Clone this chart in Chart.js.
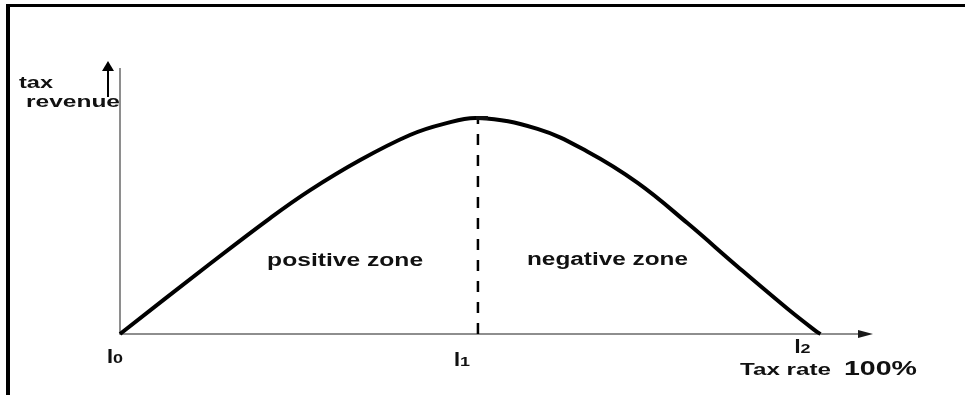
<!DOCTYPE html>
<html>
<head>
<meta charset="utf-8">
<script src="https://cdn.jsdelivr.net/npm/chart.js@4.4.1/dist/chart.umd.min.js"></script>
<style>
  html, body { margin: 0; padding: 0; background: #fff; }
  canvas { display: block; }
</style>
</head>
<body>
<canvas id="laffer" width="965" height="395"></canvas>
<script>
// tax rate (%) and tax revenue
const taxRate = [0, 12.9, 21.4, 27.1, 34.3, 41.4, 46.1, 51.1, 59.6, 66.7, 73.9, 81.0, 88.1, 95.3, 99.3, 100];
const revenue = [0, 26.5, 43.5, 54.0, 65.4, 74.8, 78.9, 81.2, 77.1, 68.6, 56.8, 41.7, 25.5, 9.5, 1.2, 0];

// optimum rate (I1) and its revenue
const peakRate = 51.1;
const peakRevenue = 81.2;

// marks on the rate axis
const rateMarks = [0, peakRate, 100];
const rateSubs = ['0', '1', '2'];

const yTitle = ['tax', 'revenue'];
const xTitle = 'Tax rate';
const xTitleEnd = '100%';
const zoneLabels = ['positive zone', 'negative zone'];
const zoneRates = [21.0, 58.1];

const FONT = '"Liberation Sans", Arial, Helvetica, sans-serif';

function stretchText(ctx, text, x, y, size, width) {
  ctx.save();
  ctx.font = 'bold ' + size + 'px ' + FONT;
  const w = ctx.measureText(text).width;
  ctx.translate(x, y);
  ctx.scale(width / w, 1);
  ctx.fillText(text, 0, 0);
  ctx.restore();
}

const lafferDecor = {
  id: 'lafferDecor',
  beforeDatasetsDraw(chart) {
    const ctx = chart.ctx;
    const area = chart.chartArea;
    const xs = chart.scales.x;
    const ys = chart.scales.y;
    const x0 = xs.getPixelForValue(0);
    const y0 = ys.getPixelForValue(0);

    ctx.save();
    // frame
    ctx.fillStyle = '#000';
    ctx.fillRect(6, 4, 959, 3);
    ctx.fillRect(6, 4, 4, 391);

    // axes
    ctx.strokeStyle = '#6a6a6a';
    ctx.lineWidth = 1.5;
    ctx.beginPath();
    ctx.moveTo(x0, area.top);
    ctx.lineTo(x0, y0);
    ctx.lineTo(area.right - 12, y0);
    ctx.stroke();

    // x arrow head
    ctx.fillStyle = '#1a1a1a';
    ctx.beginPath();
    ctx.moveTo(area.right, y0);
    ctx.lineTo(area.right - 15, y0 - 4);
    ctx.lineTo(area.right - 15, y0 + 4);
    ctx.closePath();
    ctx.fill();

    // separate y arrow
    const ax = x0 - 12;
    ctx.strokeStyle = '#000';
    ctx.lineWidth = 2;
    ctx.beginPath();
    ctx.moveTo(ax, area.top + 29);
    ctx.lineTo(ax, area.top + 1);
    ctx.stroke();
    ctx.fillStyle = '#000';
    ctx.beginPath();
    ctx.moveTo(ax, area.top - 7);
    ctx.lineTo(ax - 6, area.top + 3);
    ctx.lineTo(ax + 6, area.top + 3);
    ctx.closePath();
    ctx.fill();
    ctx.restore();
  },
  afterDatasetsDraw(chart) {
    const ctx = chart.ctx;
    const xs = chart.scales.x;
    const ys = chart.scales.y;
    const y0 = ys.getPixelForValue(0);

    ctx.save();
    ctx.fillStyle = '#111';
    ctx.textBaseline = 'alphabetic';
    ctx.textAlign = 'left';

    // small cap at the peak
    ctx.fillRect(xs.getPixelForValue(peakRate) - 2, ys.getPixelForValue(peakRevenue) - 2, 12, 4);

    // y title
    stretchText(ctx, yTitle[0], 19, 88, 16, 34);
    stretchText(ctx, yTitle[1], 26, 107, 17, 94);

    // zone labels
    stretchText(ctx, zoneLabels[0], xs.getPixelForValue(zoneRates[0]), y0 - 68, 18, 156);
    stretchText(ctx, zoneLabels[1], xs.getPixelForValue(zoneRates[1]), y0 - 69, 18, 161);

    // I0, I1, I2
    const offs = [[-13, 29], [-24, 32], [-26, 19]];
    rateMarks.forEach((r, i) => {
      const px = xs.getPixelForValue(r) + offs[i][0];
      const py = y0 + offs[i][1];
      stretchText(ctx, 'I', px, py, 21, 6);
      stretchText(ctx, rateSubs[i], px + 6, py, 13, 10);
    });

    // x title
    stretchText(ctx, xTitle, 740, y0 + 41, 17, 91);
    stretchText(ctx, xTitleEnd, 844, y0 + 41, 21, 73);
    ctx.restore();
  }
};

const ctx = document.getElementById('laffer').getContext('2d');
new Chart(ctx, {
  type: 'line',
  data: {
    datasets: [{
      label: 'tax revenue',
      data: taxRate.map((r, i) => ({ x: r, y: revenue[i] })),
      borderColor: '#000',
      borderWidth: 4,
      pointRadius: 0,
      tension: 0.4,
      clip: false,
      order: 1
    }, {
      label: 'optimum',
      data: [{ x: peakRate, y: 0 }, { x: peakRate, y: peakRevenue }],
      borderColor: '#000',
      borderWidth: 2.5,
      borderDash: [11, 10],
      pointRadius: 0,
      clip: false,
      order: 2
    }]
  },
  options: {
    responsive: false,
    animation: false,
    events: [],
    layout: { padding: { left: 120, right: 92, top: 68, bottom: 61 } },
    scales: {
      x: { type: 'linear', min: 0, max: 107.5, display: false },
      y: { type: 'linear', min: 0, max: 100, display: false }
    },
    plugins: {
      legend: { display: false },
      tooltip: { enabled: false }
    }
  },
  plugins: [lafferDecor]
});
</script>
</body>
</html>
